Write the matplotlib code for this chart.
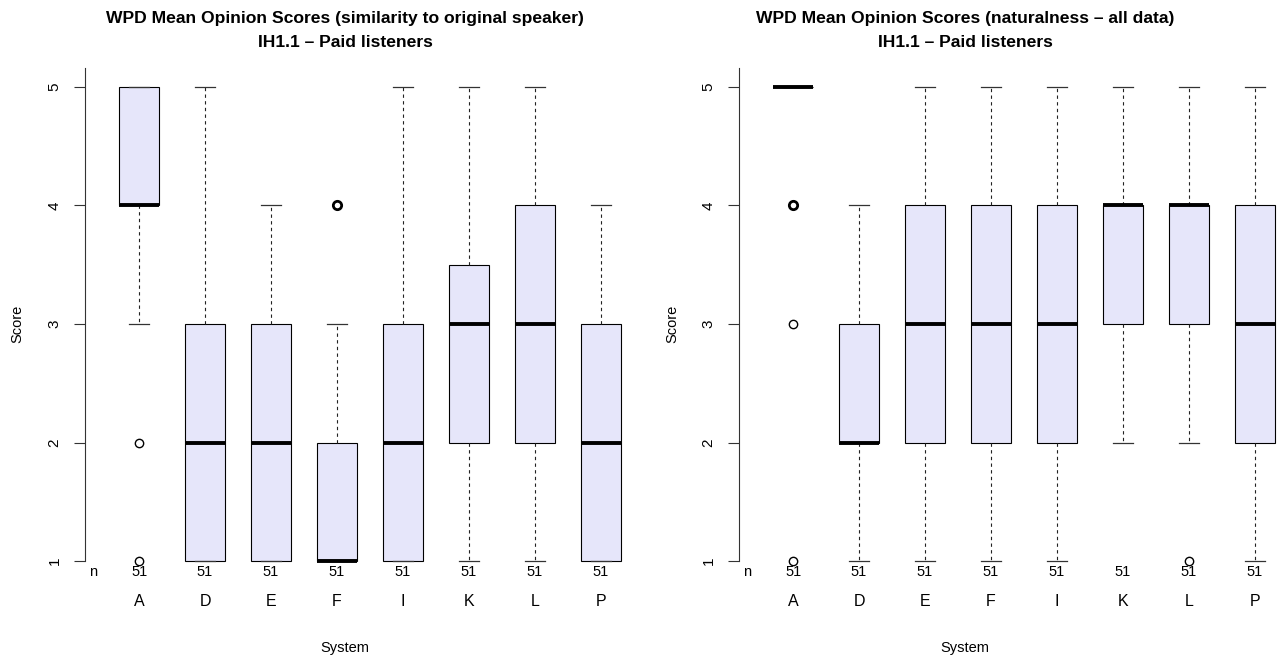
import numpy as np
import matplotlib
matplotlib.use('Agg')
import matplotlib.pyplot as plt

plt.rcParams['font.family'] = ['Liberation Sans', 'DejaVu Sans']

# Системы и число оценок
systems = ['A', 'D', 'E', 'F', 'I', 'K', 'L', 'P']
counts = [51, 51, 51, 51, 51, 51, 51, 51]

# Сходство с исходным диктором
sim_q1 = [4, 1, 1, 1, 1, 2, 2, 1]
sim_med = [4, 2, 2, 1, 2, 3, 3, 2]
sim_q3 = [5, 3, 3, 2, 3, 3.5, 4, 3]
sim_lo = [3, 1, 1, 1, 1, 1, 1, 1]
sim_hi = [5, 5, 4, 3, 5, 5, 5, 4]
sim_out = [[2, 1], [], [], [4, 4, 4], [], [], [], []]

# Естественность
nat_q1 = [5, 2, 2, 2, 2, 3, 3, 2]
nat_med = [5, 2, 3, 3, 3, 4, 4, 3]
nat_q3 = [5, 3, 4, 4, 4, 4, 4, 4]
nat_lo = [5, 1, 1, 1, 1, 2, 2, 1]
nat_hi = [5, 4, 5, 5, 5, 5, 5, 5]
nat_out = [[4, 4, 4, 3, 1], [], [], [], [], [], [1], []]

W, H = 1285, 664
fig = plt.figure(figsize=(W / 100, H / 100), dpi=100)

def px(x0, y0, w, h):
    return [x0 / W, 1 - (y0 + h) / H, w / W, h / H]

def draw_panel(ax, q1, med, q3, lo, hi, outliers):
    stats = []
    for i in range(len(systems)):
        stats.append(dict(q1=q1[i], med=med[i], q3=q3[i],
                          whislo=lo[i], whishi=hi[i], fliers=[]))
    pos = np.arange(1, len(systems) + 1)
    ax.bxp(stats, positions=pos, widths=0.6, capwidths=0.3,
           showfliers=False, patch_artist=True,
           boxprops=dict(facecolor='#E6E6FA', edgecolor='black', linewidth=0.8),
           medianprops=dict(color='black', linewidth=2.8, solid_capstyle='butt'),
           whiskerprops=dict(color='#222222', linewidth=0.8, linestyle=(0, (3, 3))),
           capprops=dict(color='#333333', linewidth=0.9))
    # выбросы: повторяющиеся рисуем жирнее
    for p, vals in zip(pos, outliers):
        v, c = np.unique(vals, return_counts=True)
        for val, cnt in zip(v, c):
            ax.plot(p, val, 'o', mfc='none', mec='black', ms=6,
                    mew=1.0 if cnt == 1 else 2.0, clip_on=False)
    ax.set_xlim(0.18, 8.82)
    ax.set_ylim(0.84, 5.16)
    for s in ['top', 'right', 'bottom']:
        ax.spines[s].set_visible(False)
    ax.spines['left'].set_bounds(1, 5.16)
    ax.spines['left'].set_color('#333333')
    ax.set_yticks([1, 2, 3, 4, 5])
    ax.set_yticklabels(['1', '2', '3', '4', '5'], rotation=90, va='center')
    ax.tick_params(axis='y', length=8, width=0.8, pad=9, labelsize=11,
                   color='#333333')
    ax.set_xticks([])
    ax.text(0.3, 0.907, 'n', ha='center', va='center', fontsize=10.5)
    for p, n, s in zip(pos, counts, systems):
        ax.text(p, 0.907, str(n), ha='center', va='center', fontsize=10.5)
        ax.text(p, 0.662, s, ha='center', va='center', fontsize=11.5)

ax1 = fig.add_axes(px(85, 68, 570, 512))
draw_panel(ax1, sim_q1, sim_med, sim_q3, sim_lo, sim_hi, sim_out)
ax2 = fig.add_axes(px(739, 68, 570, 512))
draw_panel(ax2, nat_q1, nat_med, nat_q3, nat_lo, nat_hi, nat_out)

titles = [(345, 'WPD Mean Opinion Scores (similarity to original speaker)'),
          (965, 'WPD Mean Opinion Scores (naturalness \u2013 all data)')]
for cx, t in titles:
    fig.text(cx / W, 1 - 23 / H, t, ha='center', va='baseline',
             fontsize=12.6, fontweight='bold')
    fig.text(cx / W, 1 - 47 / H, 'IH1.1 \u2013 Paid listeners', ha='center',
             va='baseline', fontsize=12.6, fontweight='bold')
    fig.text(cx / W, 1 - 648 / H, 'System', ha='center', va='center',
             fontsize=10.5)

for x in [17, 672]:
    fig.text(x / W, 1 - 324 / H, 'Score', rotation=90, ha='center',
             va='center', fontsize=10.5)

fig.savefig('out.png', dpi=100)
